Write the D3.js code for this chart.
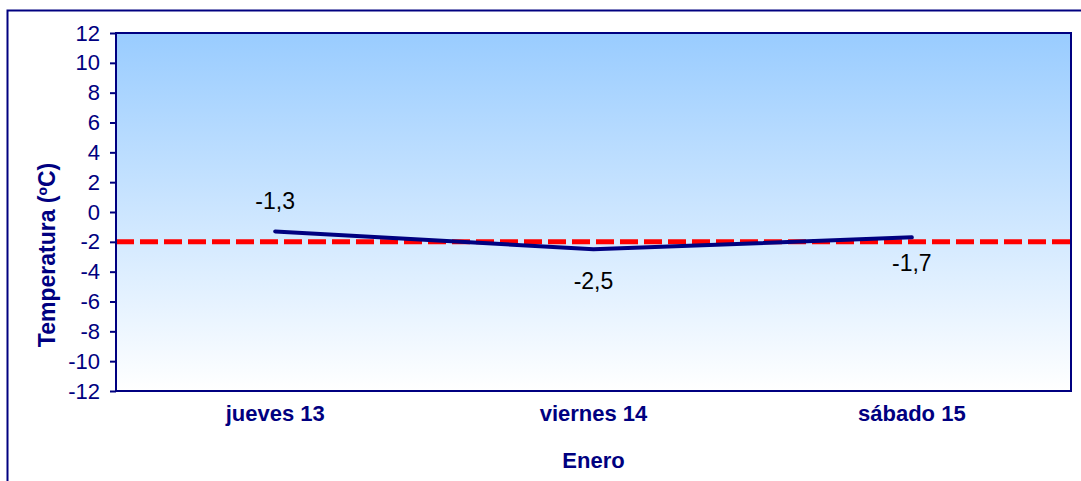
<!DOCTYPE html>
<html lang="es">
<head>
<meta charset="UTF-8">
<script src="https://d3js.org/d3.v7.min.js"></script>
<style>
  html, body { margin: 0; padding: 0; background: #fff; }
  svg { display: block; font-family: "Liberation Sans", Arial, sans-serif; }
</style>
</head>
<body>
<div id="chart"></div>
<script>
// datos
let days = ['jueves 13', 'viernes 14', 'sábado 15'];
let temps = [-1.3, -2.5, -1.7];
let refTemp = -2;
let yTicks = [-12, -10, -8, -6, -4, -2, 0, 2, 4, 6, 8, 10, 12];
let labelOffsets = [-22, 40, 34]; // above / below the point

let width = 1081, height = 481;
let margin = { top: 33, right: 10, bottom: 90, left: 116 };
let plotW = 1071 - margin.left;
let plotH = 391 - margin.top;
let navy = '#000080';

// decimal comma, plain hyphen for minus
let fmt = d => String(d).replace('.', ',').replace('\u2212', '-');

let svg = d3.select('#chart').append('svg')
    .attr('width', width).attr('height', height);

// outer frame
svg.append('rect')
    .attr('x', 7.5).attr('y', 10.5)
    .attr('width', 1090).attr('height', 490)
    .attr('fill', 'none').attr('stroke', navy).attr('stroke-width', 2);

let defs = svg.append('defs');
let grad = defs.append('linearGradient')
    .attr('id', 'bg').attr('x1', 0).attr('y1', 0).attr('x2', 0).attr('y2', 1);
grad.append('stop').attr('offset', '0%').attr('stop-color', '#99ccff');
grad.append('stop').attr('offset', '100%').attr('stop-color', '#ffffff');

let g = svg.append('g').attr('transform', `translate(${margin.left},${margin.top})`);

let x = d3.scaleBand().domain(days).range([0, plotW]).padding(0);
let y = d3.scaleLinear().domain([-12, 12]).range([plotH, 0]);

g.append('rect')
    .attr('width', plotW).attr('height', plotH)
    .attr('fill', 'url(#bg)');

// reference line
g.append('line')
    .attr('x1', 0).attr('x2', plotW)
    .attr('y1', y(refTemp)).attr('y2', y(refTemp))
    .attr('stroke', '#ff0000').attr('stroke-width', 5)
    .attr('stroke-dasharray', '18,6');

// temperature line
let line = d3.line()
    .x((d, i) => x(days[i]) + x.bandwidth() / 2)
    .y(d => y(d));

g.append('path')
    .datum(temps)
    .attr('d', line)
    .attr('fill', 'none')
    .attr('stroke', navy)
    .attr('stroke-width', 4)
    .attr('stroke-linecap', 'round')
    .attr('stroke-linejoin', 'round');

g.selectAll('.val')
    .data(temps)
    .join('text')
    .attr('class', 'val')
    .attr('x', (d, i) => x(days[i]) + x.bandwidth() / 2)
    .attr('y', (d, i) => y(d) + labelOffsets[i])
    .attr('text-anchor', 'middle')
    .attr('font-size', 23)
    .attr('fill', '#000')
    .text(fmt);

// plot frame
g.append('rect')
    .attr('width', plotW).attr('height', plotH)
    .attr('fill', 'none').attr('stroke', navy).attr('stroke-width', 2);

// y axis
let yAxis = g.append('g')
    .call(d3.axisLeft(y).tickValues(yTicks).tickSize(6).tickPadding(10));
yAxis.select('.domain').remove();
yAxis.selectAll('line').attr('stroke', navy).attr('stroke-width', 2);
yAxis.selectAll('text')
    .attr('fill', navy)
    .attr('font-size', 22)
    .attr('font-family', '"Liberation Sans", Arial, sans-serif')
    .text(fmt);

// x axis
let xAxis = g.append('g')
    .attr('transform', `translate(0,${plotH})`)
    .call(d3.axisBottom(x).tickSize(0).tickPadding(14));
xAxis.select('.domain').remove();
xAxis.selectAll('text')
    .attr('fill', navy)
    .attr('font-size', 22)
    .attr('font-weight', 'bold')
    .attr('font-family', '"Liberation Sans", Arial, sans-serif');

// axis titles
svg.append('text')
    .attr('x', margin.left + plotW / 2)
    .attr('y', 468)
    .attr('text-anchor', 'middle')
    .attr('fill', navy)
    .attr('font-size', 22)
    .attr('font-weight', 'bold')
    .text('Enero');

svg.append('text')
    .attr('transform', 'translate(55,255) rotate(-90)')
    .attr('text-anchor', 'middle')
    .attr('fill', navy)
    .attr('font-size', 23)
    .attr('font-weight', 'bold')
    .text('Temperatura (ºC)');
</script>
</body>
</html>
